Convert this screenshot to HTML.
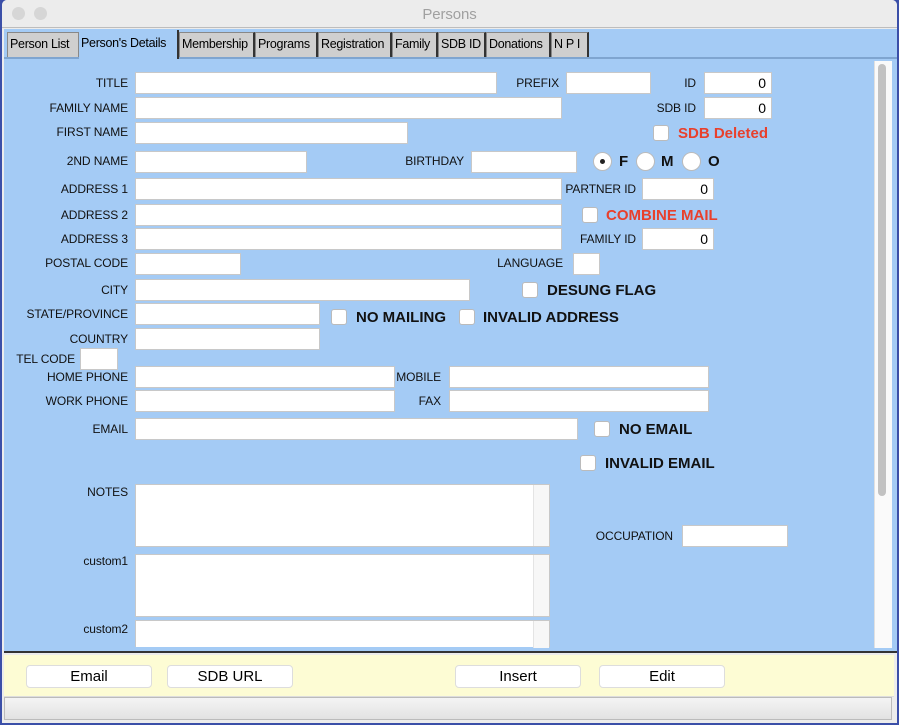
<!DOCTYPE html>
<html><head><meta charset="utf-8"><style>
*{box-sizing:border-box;margin:0;padding:0}
body{width:899px;height:725px;background:#3b4fa8;font-family:"Liberation Sans",sans-serif;position:relative;overflow:hidden}
#win{position:absolute;left:2px;top:0;width:895px;height:723px;background:#ececec;border-radius:5px 5px 0 0;overflow:hidden}
.a{position:absolute}
.lbl{position:absolute;font-size:12px;color:#111;white-space:nowrap;line-height:14px;letter-spacing:-0.1px}
.r{text-align:right}
.in{position:absolute;background:#fff;border:1px solid #c8c8c8;height:22px;font-size:14px;text-align:right;padding:2px 5px 0 0;color:#000}
.cb{position:absolute;width:16px;height:16px;background:#fff;border:1px solid #bbb;border-radius:3px}
.bl{position:absolute;font-size:15px;font-weight:bold;white-space:nowrap;line-height:16px;color:#111}
.red{color:#e8402c}
.rad{position:absolute;width:19px;height:19px;border-radius:50%;background:#fff;border:1px solid #bbb}
.tab{position:absolute;top:32px;height:25px;background:#cfcfcf;border:1px solid #888;border-bottom:none;border-right:2px solid #333;font-size:12.5px;letter-spacing:-0.3px;padding:4px 0 0 2px;white-space:nowrap;overflow:hidden}
.btn{position:absolute;top:665px;height:23px;background:#fff;border:1px solid #ddd;border-radius:4px;font-size:15px;text-align:center;line-height:21px}
</style></head><body>
<div id="win">
<div class="a" style="left:0;top:0;width:895px;height:28px;background:#ececec;border-bottom:1px solid #bdbdbd"></div>
<div class="a" style="left:10px;top:7px;width:13px;height:13px;border-radius:50%;background:#d6d6d6"></div>
<div class="a" style="left:32px;top:7px;width:13px;height:13px;border-radius:50%;background:#d6d6d6"></div>
<div class="lbl" style="left:0;width:895px;text-align:center;top:7px;font-size:15px;color:#a0a0a0;line-height:16px">Persons</div>
<div class="a" style="left:2px;top:29px;width:893px;height:624px;background:#a4cbf5;border-bottom:2px solid #333"></div>
<div class="a" style="left:2px;top:57px;width:893px;height:2px;background:#7fa5d0"></div>
<div class="tab" style="left:5px;width:72px;border-right:1px solid #888">Person List</div>
<div class="tab" style="left:77px;top:30px;height:29px;width:100px;background:#a4cbf5;border:none;border-right:2px solid #333;padding-top:6px">Person's Details</div>
<div class="tab" style="left:177px;width:76px">Membership</div>
<div class="tab" style="left:253px;width:63px">Programs</div>
<div class="tab" style="left:316px;width:74px">Registration</div>
<div class="tab" style="left:390px;width:46px">Family</div>
<div class="tab" style="left:436px;width:48px">SDB ID</div>
<div class="tab" style="left:484px;width:65px">Donations</div>
<div class="tab" style="left:549px;width:38px">N P I</div>
<div class="a" style="left:872px;top:61px;width:18px;height:587px;background:#fafafa;border-left:1px solid #e0e0e0"></div>
<div class="a" style="left:876px;top:64px;width:8px;height:432px;background:#c2c2c2;border-radius:4px"></div>
</div>

<div class="lbl r" style="left:0;width:128px;top:76px">TITLE</div>
<div class="lbl r" style="left:0;width:128px;top:101px">FAMILY NAME</div>
<div class="lbl r" style="left:0;width:128px;top:125px">FIRST NAME</div>
<div class="lbl r" style="left:0;width:128px;top:154px">2ND NAME</div>
<div class="lbl r" style="left:0;width:128px;top:182px">ADDRESS 1</div>
<div class="lbl r" style="left:0;width:128px;top:208px">ADDRESS 2</div>
<div class="lbl r" style="left:0;width:128px;top:232px">ADDRESS 3</div>
<div class="lbl r" style="left:0;width:128px;top:256px">POSTAL CODE</div>
<div class="lbl r" style="left:0;width:128px;top:283px">CITY</div>
<div class="lbl r" style="left:0;width:128px;top:307px">STATE/PROVINCE</div>
<div class="lbl r" style="left:0;width:128px;top:332px">COUNTRY</div>
<div class="lbl r" style="left:0;width:75px;top:352px">TEL CODE</div>
<div class="lbl r" style="left:0;width:128px;top:370px">HOME PHONE</div>
<div class="lbl r" style="left:0;width:128px;top:394px">WORK PHONE</div>
<div class="lbl r" style="left:0;width:128px;top:422px">EMAIL</div>
<div class="lbl r" style="left:0;width:128px;top:485px">NOTES</div>
<div class="lbl r" style="left:0;width:128px;top:554px">custom1</div>
<div class="lbl r" style="left:0;width:128px;top:622px">custom2</div>

<div class="lbl r" style="left:400px;width:159px;top:76px">PREFIX</div>
<div class="lbl r" style="left:600px;width:96px;top:76px">ID</div>
<div class="lbl r" style="left:600px;width:96px;top:101px">SDB ID</div>
<div class="lbl r" style="left:380px;width:84px;top:154px">BIRTHDAY</div>
<div class="lbl r" style="left:540px;width:96px;top:182px">PARTNER ID</div>
<div class="lbl r" style="left:540px;width:96px;top:232px">FAMILY ID</div>
<div class="lbl r" style="left:460px;width:103px;top:256px">LANGUAGE</div>
<div class="lbl r" style="left:340px;width:101px;top:370px">MOBILE</div>
<div class="lbl r" style="left:340px;width:101px;top:394px">FAX</div>
<div class="lbl r" style="left:540px;width:133px;top:529px">OCCUPATION</div>

<div class="in" style="left:135px;top:72px;width:362px"></div>
<div class="in" style="left:566px;top:72px;width:85px"></div>
<div class="in" style="left:704px;top:72px;width:68px">0</div>
<div class="in" style="left:135px;top:97px;width:427px"></div>
<div class="in" style="left:704px;top:97px;width:68px">0</div>
<div class="in" style="left:135px;top:122px;width:273px"></div>
<div class="in" style="left:135px;top:151px;width:172px"></div>
<div class="in" style="left:471px;top:151px;width:106px"></div>
<div class="in" style="left:135px;top:178px;width:427px"></div>
<div class="in" style="left:642px;top:178px;width:72px">0</div>
<div class="in" style="left:135px;top:204px;width:427px"></div>
<div class="in" style="left:135px;top:228px;width:427px"></div>
<div class="in" style="left:642px;top:228px;width:72px">0</div>
<div class="in" style="left:135px;top:253px;width:106px"></div>
<div class="in" style="left:573px;top:253px;width:27px"></div>
<div class="in" style="left:135px;top:279px;width:335px"></div>
<div class="in" style="left:135px;top:303px;width:185px"></div>
<div class="in" style="left:135px;top:328px;width:185px"></div>
<div class="in" style="left:80px;top:348px;width:38px"></div>
<div class="in" style="left:135px;top:366px;width:260px"></div>
<div class="in" style="left:449px;top:366px;width:260px"></div>
<div class="in" style="left:135px;top:390px;width:260px"></div>
<div class="in" style="left:449px;top:390px;width:260px"></div>
<div class="in" style="left:135px;top:418px;width:443px"></div>
<div class="in" style="left:682px;top:525px;width:106px"></div>
<div class="in" style="left:135px;top:484px;width:415px;height:63px"><div class="a" style="left:397px;top:0;width:16px;height:61px;background:#f7f7f7;border-left:1px solid #e4e4e4"></div></div>
<div class="in" style="left:135px;top:554px;width:415px;height:63px"><div class="a" style="left:397px;top:0;width:16px;height:61px;background:#f7f7f7;border-left:1px solid #e4e4e4"></div></div>
<div class="in" style="left:135px;top:620px;width:415px;height:27px;border-bottom:none"><div class="a" style="left:397px;top:0;width:16px;height:27px;background:#f7f7f7;border-left:1px solid #e4e4e4"></div></div>

<div class="cb" style="left:653px;top:125px"></div><div class="bl red" style="left:678px;top:126px">SDB Deleted</div>
<div class="rad" style="left:593px;top:152px"><div class="a" style="left:6px;top:6px;width:5px;height:5px;border-radius:50%;background:#222"></div></div>
<div class="bl" style="left:619px;top:154px">F</div>
<div class="rad" style="left:636px;top:152px"></div><div class="bl" style="left:661px;top:154px">M</div>
<div class="rad" style="left:682px;top:152px"></div><div class="bl" style="left:708px;top:154px">O</div>
<div class="cb" style="left:582px;top:207px"></div><div class="bl red" style="left:606px;top:208px">COMBINE MAIL</div>
<div class="cb" style="left:522px;top:282px"></div><div class="bl" style="left:547px;top:283px">DESUNG FLAG</div>
<div class="cb" style="left:331px;top:309px"></div><div class="bl" style="left:356px;top:310px">NO MAILING</div>
<div class="cb" style="left:459px;top:309px"></div><div class="bl" style="left:483px;top:310px">INVALID ADDRESS</div>
<div class="cb" style="left:594px;top:421px"></div><div class="bl" style="left:619px;top:422px">NO EMAIL</div>
<div class="cb" style="left:580px;top:455px"></div><div class="bl" style="left:605px;top:456px">INVALID EMAIL</div>

<div class="a" style="left:4px;top:655px;width:890px;height:42px;background:#fdfcd4;border-bottom:1px solid #ddd"></div>
<div class="a" style="left:4px;top:697px;width:888px;height:23px;background:linear-gradient(#f4f4f4,#e2e2e2);border:1px solid #bbb"></div>
<div class="btn" style="left:26px;width:126px">Email</div>
<div class="btn" style="left:167px;width:126px">SDB URL</div>
<div class="btn" style="left:455px;width:126px">Insert</div>
<div class="btn" style="left:599px;width:126px">Edit</div>
</body></html>
